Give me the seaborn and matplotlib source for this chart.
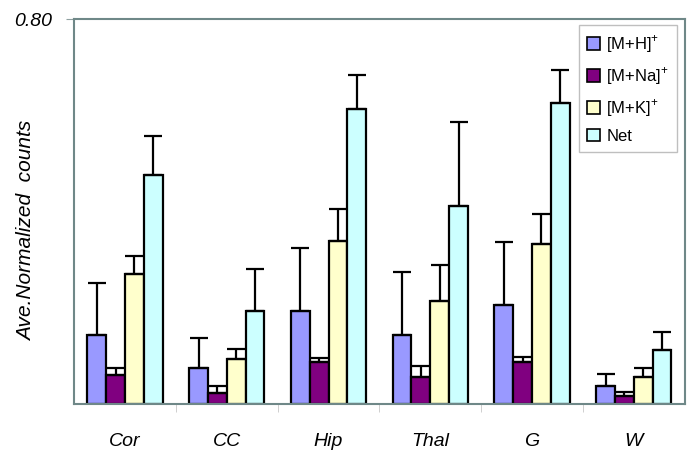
import numpy as np
import pandas as pd
import matplotlib
matplotlib.use("Agg")
import matplotlib.pyplot as plt
from matplotlib.ticker import FixedLocator
import seaborn as sns

# values
regions = ["Cor", "CC", "Hip", "Thal", "G", "W"]
ions = ["[M+H]$^{+}$", "[M+Na]$^{+}$", "[M+K]$^{+}$", "Net"]

mh = [0.143, 0.075, 0.193, 0.143, 0.206, 0.037]
mna = [0.060, 0.023, 0.087, 0.056, 0.087, 0.017]
mk = [0.270, 0.094, 0.338, 0.214, 0.333, 0.056]
net = [0.476, 0.193, 0.613, 0.412, 0.626, 0.112]

mh_err = [0.109, 0.062, 0.131, 0.131, 0.131, 0.025]
mna_err = [0.015, 0.014, 0.009, 0.023, 0.011, 0.008]
mk_err = [0.038, 0.020, 0.068, 0.075, 0.062, 0.019]
net_err = [0.081, 0.088, 0.071, 0.174, 0.068, 0.038]

colors = ["#9999ff", "#800080", "#ffffcc", "#ccffff"]

means = [mh, mna, mk, net]
errs = [mh_err, mna_err, mk_err, net_err]

df = pd.DataFrame({
    "region": np.tile(regions, len(ions)),
    "ion": np.repeat(ions, len(regions)),
    "value": np.concatenate(means),
})

sns.set_style("white")
plt.rcParams["font.family"] = ["Liberation Sans", "DejaVu Sans"]
plt.rcParams["mathtext.fontset"] = "custom"
plt.rcParams["mathtext.rm"] = "Liberation Sans"
plt.rcParams["text.color"] = "black"
plt.rcParams["xtick.color"] = "black"
plt.rcParams["ytick.color"] = "black"
plt.rcParams["axes.labelcolor"] = "black"

fig = plt.figure(figsize=(6.93, 4.69), dpi=100)
ax = fig.add_axes([0.107, 0.139, 0.881, 0.82])

sns.barplot(data=df, x="region", y="value", hue="ion", order=regions,
            hue_order=ions, palette=colors, width=0.74, saturation=1,
            edgecolor="black", linewidth=1.6, ax=ax, legend=False)

# upper-only error bars on each bar
for cont, err in zip(ax.containers, errs):
    xs = [p.get_x() + p.get_width() / 2 for p in cont.patches]
    ys = [p.get_height() for p in cont.patches]
    ax.errorbar(xs, ys, yerr=[np.zeros(len(err)), err], fmt="none",
                ecolor="black", elinewidth=1.6, capsize=6.5, capthick=1.6,
                zorder=1)

ax.set_ylim(0, 0.8)
ax.set_xlim(-0.5, 5.5)
ax.set_yticks([0.8])
ax.set_yticklabels(["0.80"], fontsize=14, fontstyle="italic")
ax.tick_params(axis="y", length=6, color="#8fa0a0", left=True, pad=10)
ax.tick_params(axis="x", which="major", length=0, pad=21, labelsize=14)
for lab in ax.get_xticklabels():
    lab.set_fontstyle("italic")
ax.xaxis.set_minor_locator(FixedLocator(np.arange(0.5, 5.5, 1.0)))
ax.tick_params(axis="x", which="minor", length=6, color="#c8c8c8",
               bottom=True, direction="out")

ax.set_xlabel("")
ax.set_ylabel("Ave.Normalized  counts", fontsize=15, fontstyle="italic")
ax.yaxis.set_label_coords(-0.062, 0.45)

for sp in ax.spines.values():
    sp.set_color("#6f8888")
    sp.set_linewidth(1.5)

handles = [plt.Rectangle((0, 0), 1, 1, facecolor=c, edgecolor="black",
                         linewidth=1.2) for c in colors]
leg = ax.legend(handles, ions, loc="upper right", bbox_to_anchor=(0.993, 0.993),
                fontsize=12, frameon=True, fancybox=False, handlelength=0.8,
                handleheight=0.8, handletextpad=0.35, labelspacing=0.6,
                borderpad=0.5, borderaxespad=0.2)
leg.get_frame().set_edgecolor("#b0b0b0")
leg.get_frame().set_linewidth(1.0)

fig.savefig("out.png", dpi=100)
